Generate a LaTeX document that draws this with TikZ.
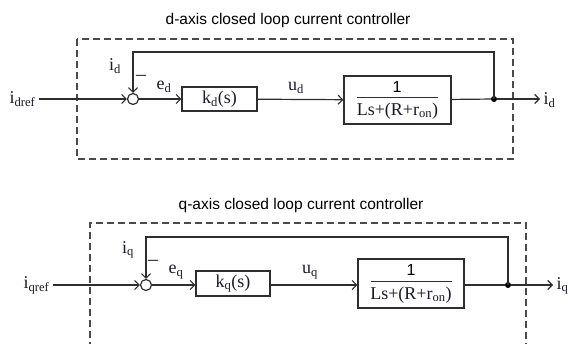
\documentclass[tikz,border=0pt]{standalone}
\usepackage{fontspec}
\setmainfont{Liberation Serif}
\newfontfamily\titlefont{Liberation Sans}
\usetikzlibrary{arrows.meta}
\definecolor{ln}{HTML}{2E2E2E}
\definecolor{dsh}{HTML}{4A4A4A}
\definecolor{txt}{HTML}{1A1A2A}
\tikzset{
  lbl/.style={inner sep=1pt, text=txt, font=\fontsize{18}{20}\selectfont},
  io/.style={lbl, inner sep=3.5pt},
  ttl/.style={inner sep=0pt, text=black, font=\titlefont\fontsize{15.5}{18}\selectfont},
  conn/.style={draw=ln, line width=1.2pt},
  arr/.style={conn, -{Straight Barb[length=4.5pt,width=9pt,line width=1.1pt]}},
  blk/.style={draw=ln, line width=1.2pt, rectangle, inner sep=0pt},
  sumj/.style={draw=ln, line width=1.2pt, circle, minimum size=11pt, inner sep=0pt},
  dot/.style={fill=black, circle, minimum size=6pt, inner sep=0pt},
  frame/.style={draw=dsh, line width=1.3pt, dash pattern=on 7pt off 4pt},
}
\begin{document}
\begin{tikzpicture}[x=1pt,y=-1pt]
\clip (0,0) rectangle (568,343);
\fill[white] (0,0) rectangle (568,343);

% ---------- d-axis ----------
\node[ttl] (td) at (288,20) {d-axis closed loop current controller};
\draw[frame] (77,39) rectangle (513,159);
\node[io, anchor=east] (idref) at (39,99) {i\textsubscript{dref}};
\node[sumj] (sumd) at (133,99) {};
\node[blk, minimum width=75pt, minimum height=24pt] (kd) at (219.5,99) {};
\node[lbl] (kdt) at (kd.center) {k\textsubscript{d}(s)};
\node[blk, minimum width=107pt, minimum height=48pt] (pd) at (397.5,100) {};
\node[inner sep=0pt, font=\titlefont\fontsize{16}{18}\selectfont] (pd1) at (397,87) {1};
\draw[ln, line width=1pt] (357,97) -- (438,97);
\node[lbl] (pd2) at (397.5,111) {Ls+(R+r\textsubscript{on})};
\node[dot] (jd) at (494,99) {};
\coordinate (fd) at (494,52);
\node[io, anchor=west] (outd) at (540,100) {i\textsubscript{d}};

\draw[arr] (idref) -- (sumd);
\draw[arr] (sumd) -- (kd);
\draw[arr] (kd) -- (pd);
\draw[conn] (pd) -- (jd);
\draw[arr] (jd) -- (outd.west |- jd);
\draw[arr] (jd.center) -- (fd) -| (sumd);

\node[lbl] (fbd) at (115,66) {i\textsubscript{d}};
\node[lbl, font=\fontsize{20}{20}\selectfont] (mnd) at (141,78) {–};
\node[lbl] (ed) at (164,87) {e\textsubscript{d}};
\node[lbl] (ud) at (296,88) {u\textsubscript{d}};

% ---------- q-axis ----------
\node[ttl] (tq) at (301,205) {q-axis closed loop current controller};
\draw[frame] (90,360) -- (90,223) -- (526,223) -- (526,360);
\node[io, anchor=east] (iqref) at (53,285) {i\textsubscript{qref}};
\node[sumj] (sumq) at (146,285) {};
\node[blk, minimum width=74pt, minimum height=25pt] (kq) at (233,283.5) {};
\node[lbl] (kqt) at (kq.center) {k\textsubscript{q}(s)};
\node[blk, minimum width=106pt, minimum height=49pt] (pq) at (411,283.5) {};
\node[inner sep=0pt, font=\titlefont\fontsize{16}{18}\selectfont] (pq1) at (411,270) {1};
\draw[ln, line width=1pt] (371,281) -- (452,281);
\node[lbl] (pq2) at (411,295) {Ls+(R+r\textsubscript{on})};
\node[dot] (jq) at (508,285) {};
\coordinate (fq) at (508,237);
\node[io, anchor=west] (outq) at (553,286) {i\textsubscript{q}};

\draw[arr] (iqref) -- (sumq);
\draw[arr] (sumq) -- (sumq -| kq.west);
\draw[arr] (kq.east |- sumq) -- (pq.west |- sumq);
\draw[conn] (pq.east |- sumq) -- (jq);
\draw[arr] (jq) -- (outq.west |- jq);
\draw[arr] (jq.center) -- (fq) -| (sumq);

\node[lbl] (fbq) at (128,250) {i\textsubscript{q}};
\node[lbl, font=\fontsize{20}{20}\selectfont] (mnq) at (153,263) {–};
\node[lbl] (eq) at (176,272) {e\textsubscript{q}};
\node[lbl] (uq) at (310,272) {u\textsubscript{q}};
\end{tikzpicture}
\end{document}
